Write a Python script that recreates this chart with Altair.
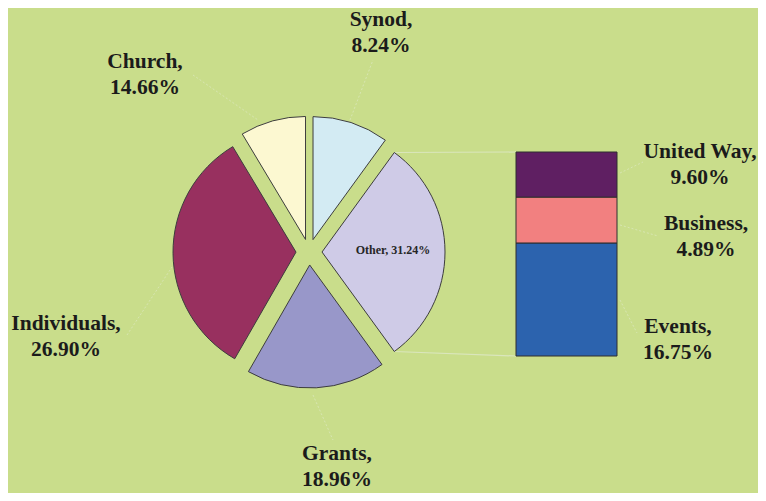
import math
import altair as alt
import pandas as pd

# ---------------- data ----------------
pie_categories = ["Synod", "Other", "Grants", "Individuals", "Church"]
# angular share of each slice as drawn (percent of the circle)
pie_shares = [10.0, 30.0, 18.3, 33.1, 8.6]
pie_labels = ["Synod,\n8.24%", "Other, 31.24%", "Grants,\n18.96%",
              "Individuals,\n26.90%", "Church,\n14.66%"]

bar_categories = ["Events", "Business", "United Way"]
# share of the secondary bar height (percent), bottom to top
bar_shares = [55.4, 22.5, 22.1]
bar_labels = ["Events,\n16.75%", "Business,\n4.89%", "United Way,\n9.60%"]

# ---------------- style / layout ----------------
pie_colors = ["#d3ebf3", "#cfcbe7", "#9897c9", "#98305f", "#fcf8d1"]
bar_colors = ["#2c63ae", "#f28080", "#5f1f62"]
BG = "#c9dd8b"
W, H = 750, 485
CX, CY, R, EXPLODE = 301, 244, 123, 13
BAR_X0, BAR_X1, BAR_TOP, BAR_BOTTOM = 508, 609, 144, 348

# first-line centres of each label
pie_label_pos = [(373, 12), (385, 242), (329, 446), (58, 316), (137, 54)]
bar_label_pos = [(670, 319), (698, 216), (692, 144)]
leader_lines = [
    (342, 112, 365, 52),    # Synod
    (305, 387, 325, 432),   # Grants
    (119, 327, 164, 259),   # Individuals
    (185, 67, 250, 112),    # Church
    (612, 292, 629, 325),   # Events
    (612, 217, 650, 228),   # Business
    (612, 165, 635, 154),   # United Way
]

# ---------------- tables ----------------
rows = []
acc = 0.0
for cat, s, col in zip(pie_categories, pie_shares, pie_colors):
    t0, t1 = acc, acc + s
    acc = t1
    mid = (t0 + t1) / 2 / 100 * 2 * math.pi
    rows.append(dict(cat=cat, t0=t0, t1=t1, color=col,
                     cx=CX + EXPLODE * math.sin(mid),
                     cy=CY - EXPLODE * math.cos(mid),
                     a0=t0 / 100 * 2 * math.pi, a1=t1 / 100 * 2 * math.pi))
pie_df = pd.DataFrame(rows)

brows = []
acc = 0.0
for cat, s, col in zip(bar_categories, bar_shares, bar_colors):
    brows.append(dict(cat=cat, b0=acc, b1=acc + s, color=col))
    acc += s
bar_df = pd.DataFrame(brows)

# connectors from the "Other" slice's outer corners to the bar's top / bottom
other = pie_df[pie_df.cat == "Other"].iloc[0]
conn_df = pd.DataFrame([
    dict(x=other.cx + R * math.sin(other.a0), y=other.cy - R * math.cos(other.a0),
         x2=BAR_X0, y2=BAR_TOP),
    dict(x=other.cx + R * math.sin(other.a1), y=other.cy - R * math.cos(other.a1),
         x2=BAR_X0, y2=BAR_BOTTOM),
])

lead_df = pd.DataFrame(leader_lines, columns=["x", "y", "x2", "y2"])

big_labels = pd.DataFrame(
    [dict(text=t, x=p[0], y=p[1]) for t, p, c in zip(pie_labels, pie_label_pos, pie_categories) if c != "Other"]
    + [dict(text=t, x=p[0], y=p[1]) for t, p in zip(bar_labels, bar_label_pos)]
)
small_labels = pd.DataFrame(
    [dict(text=t, x=p[0], y=p[1]) for t, p, c in zip(pie_labels, pie_label_pos, pie_categories) if c == "Other"]
)

xs = alt.Scale(domain=[0, W], range=[0, W], nice=False, zero=False)
ys = alt.Scale(domain=[0, H], range=[0, H], nice=False, zero=False)

lead = alt.Chart(lead_df).mark_rule(color="#dde8c0", strokeWidth=1, strokeDash=[2, 2], opacity=0.7).encode(
    x=alt.X("x:Q", scale=xs, axis=None), y=alt.Y("y:Q", scale=ys, axis=None),
    x2="x2:Q", y2="y2:Q")

conn = alt.Chart(conn_df).mark_rule(color="#dae6bc", strokeWidth=1.2).encode(
    x=alt.X("x:Q", scale=xs, axis=None), y=alt.Y("y:Q", scale=ys, axis=None),
    x2="x2:Q", y2="y2:Q")

pie = alt.Chart(pie_df).mark_arc(radius=R, stroke="#3d3d3d", strokeWidth=1).encode(
    theta=alt.Theta("t0:Q", scale=alt.Scale(domain=[0, 100], range=[0, 2 * math.pi])),
    theta2="t1:Q",
    x=alt.X("cx:Q", scale=xs, axis=None),
    y=alt.Y("cy:Q", scale=ys, axis=None),
    color=alt.Color("color:N", scale=None, legend=None),
)

bar = alt.Chart(bar_df).mark_bar(stroke="#2e2e2e", strokeWidth=1).encode(
    x=alt.value(BAR_X0), x2=alt.value(BAR_X1),
    y=alt.Y("b0:Q", scale=alt.Scale(domain=[0, 100], range=[BAR_BOTTOM, BAR_TOP], nice=False, zero=False), axis=None),
    y2="b1:Q",
    color=alt.Color("color:N", scale=None, legend=None),
)

txt = alt.Chart(big_labels).mark_text(
    font="Liberation Serif", fontWeight="bold", fontSize=21.5, lineHeight=26,
    lineBreak="\n", align="center", baseline="middle", color="#1b1b1b").encode(
    x=alt.X("x:Q", scale=xs, axis=None), y=alt.Y("y:Q", scale=ys, axis=None), text="text:N")

small = alt.Chart(small_labels).mark_text(
    font="Liberation Serif", fontWeight="bold", fontSize=12,
    align="center", baseline="middle", color="#262626").encode(
    x=alt.X("x:Q", scale=xs, axis=None), y=alt.Y("y:Q", scale=ys, axis=None), text="text:N")

chart = alt.layer(lead, conn, pie, bar, txt, small).resolve_scale(
    y="independent", x="independent"
).properties(
    width=W, height=H, padding=0, autosize="none", background=BG
).configure_view(stroke=None)

chart.save("out.html", embed_options={"renderer": "svg", "actions": False})
